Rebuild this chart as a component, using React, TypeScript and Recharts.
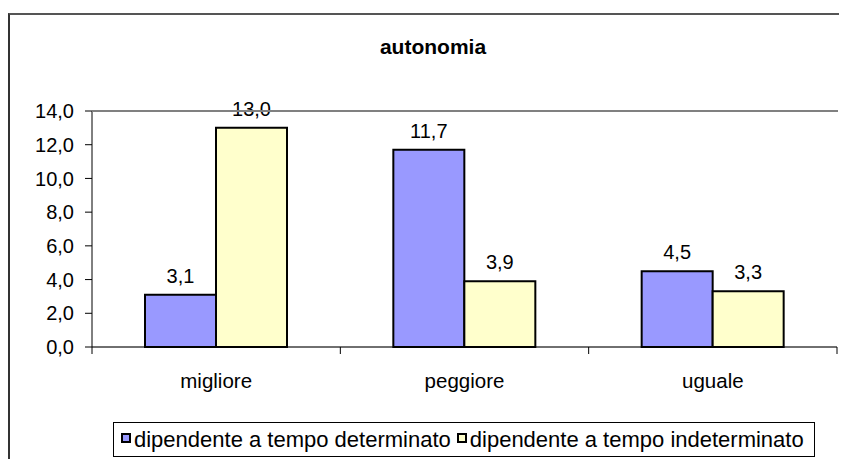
import React from "react";
import {
  BarChart,
  Bar,
  XAxis,
  YAxis,
  CartesianGrid,
  LabelList,
} from "recharts";

const categories = ["migliore", "peggiore", "uguale"];
const determinato = [3.1, 11.7, 4.5];
const indeterminato = [13.0, 3.9, 3.3];
const yTicks = [0, 2, 4, 6, 8, 10, 12, 14];

const seriesNames = [
  "dipendente a tempo determinato",
  "dipendente a tempo indeterminato",
];
const seriesColors = ["#9999FF", "#FFFFCC"];

const data = categories.map((c, i) => ({
  name: c,
  det: determinato[i],
  ind: indeterminato[i],
}));

const FONT = "'Liberation Sans', Arial, sans-serif";
const fmt = (v: any) => Number(v).toFixed(1).replace(".", ",");

const CategoryTick = (props: any) => {
  const { x, y, payload, index } = props;
  const half = 745 / categories.length / 2;
  return (
    <g>
      <line x1={x - half} x2={x - half} y1={y - 7} y2={y} stroke="#000" />
      {index === categories.length - 1 && (
        <line x1={x + half} x2={x + half} y1={y - 7} y2={y} stroke="#000" />
      )}
      <text
        x={x}
        y={y + 27}
        dy="0.35em"
        textAnchor="middle"
        fontSize={20.5}
        fontFamily={FONT}
        fill="#000"
      >
        {payload.value}
      </text>
    </g>
  );
};

export default function App() {
  return (
    <div
      style={{
        position: "relative",
        width: 839,
        height: 451,
        overflow: "hidden",
        fontFamily: FONT,
        background: "#fff",
      }}
    >
      <div
        style={{
          position: "absolute",
          left: 0,
          top: 5,
          width: 900,
          height: 500,
          borderLeft: "2px solid #333",
          borderTop: "2px solid #555",
        }}
      />
      <div
        style={{
          position: "absolute",
          left: 325,
          width: 200,
          top: 26,
          textAlign: "center",
          fontWeight: "bold",
          fontSize: 21,
          lineHeight: "26px",
        }}
      >
        autonomia
      </div>
      <div style={{ position: "absolute", left: 0, top: 0 }}>
        <BarChart
          width={839}
          height={451}
          data={data}
          margin={{ top: 103, right: 10, left: 0, bottom: 72 }}
          barSize={71}
          barGap={0}
        >
          <CartesianGrid vertical={false} stroke="#c0c0c0" />
          <XAxis
            dataKey="name"
            height={40}
            axisLine={{ stroke: "#000" }}
            tickLine={false}
            tickSize={7}
            tickMargin={0}
            tick={<CategoryTick />}
            interval={0}
          />
          <YAxis
            yAxisId="left"
            width={84}
            domain={[0, 14]}
            ticks={yTicks}
            tickFormatter={fmt}
            tickSize={7}
            tickMargin={11}
            axisLine={{ stroke: "#000" }}
            tickLine={{ stroke: "#000" }}
            tick={{ fill: "#000", fontSize: 20, fontFamily: FONT }}
          />
          <YAxis
            yAxisId="right"
            orientation="right"
            width={0}
            domain={[0, 14]}
            ticks={yTicks}
            tick={false}
            tickLine={false}
            axisLine={{ stroke: "#808080", strokeWidth: 2 }}
          />
          <Bar
            yAxisId="left"
            dataKey="det"
            name={seriesNames[0]}
            fill={seriesColors[0]}
            stroke="#000"
            strokeWidth={2}
            isAnimationActive={false}
          >
            <LabelList
              dataKey="det"
              position="top"
              offset={12}
              formatter={fmt}
              fill="#000"
              fontSize={20}
              fontFamily={FONT}
            />
          </Bar>
          <Bar
            yAxisId="left"
            dataKey="ind"
            name={seriesNames[1]}
            fill={seriesColors[1]}
            stroke="#000"
            strokeWidth={2}
            isAnimationActive={false}
          >
            <LabelList
              dataKey="ind"
              position="top"
              offset={12}
              formatter={fmt}
              fill="#000"
              fontSize={20}
              fontFamily={FONT}
            />
          </Bar>
        </BarChart>
      </div>
      {/* top border of plot area */}
      <div
        style={{
          position: "absolute",
          left: 84,
          top: 102,
          width: 746,
          height: 0,
          borderTop: "2px solid #808080",
        }}
      />
      <div
        style={{
          position: "absolute",
          left: 105,
          top: 414,
          width: 702,
          height: 35,
          border: "1px solid #000",
          boxSizing: "border-box",
          display: "flex",
          alignItems: "center",
          paddingLeft: 7,
          fontSize: 22,
          whiteSpace: "nowrap",
        }}
      >
        {seriesNames.map((n, i) => (
          <div
            key={n}
            style={{ display: "flex", alignItems: "center", marginRight: 6 }}
          >
            <span
              style={{
                display: "inline-block",
                width: 10,
                height: 10,
                border: "2px solid #000",
                boxSizing: "border-box",
                background: seriesColors[i],
                marginRight: 3,
                marginTop: -3,
              }}
            />
            <span>{n}</span>
          </div>
        ))}
      </div>
    </div>
  );
}
